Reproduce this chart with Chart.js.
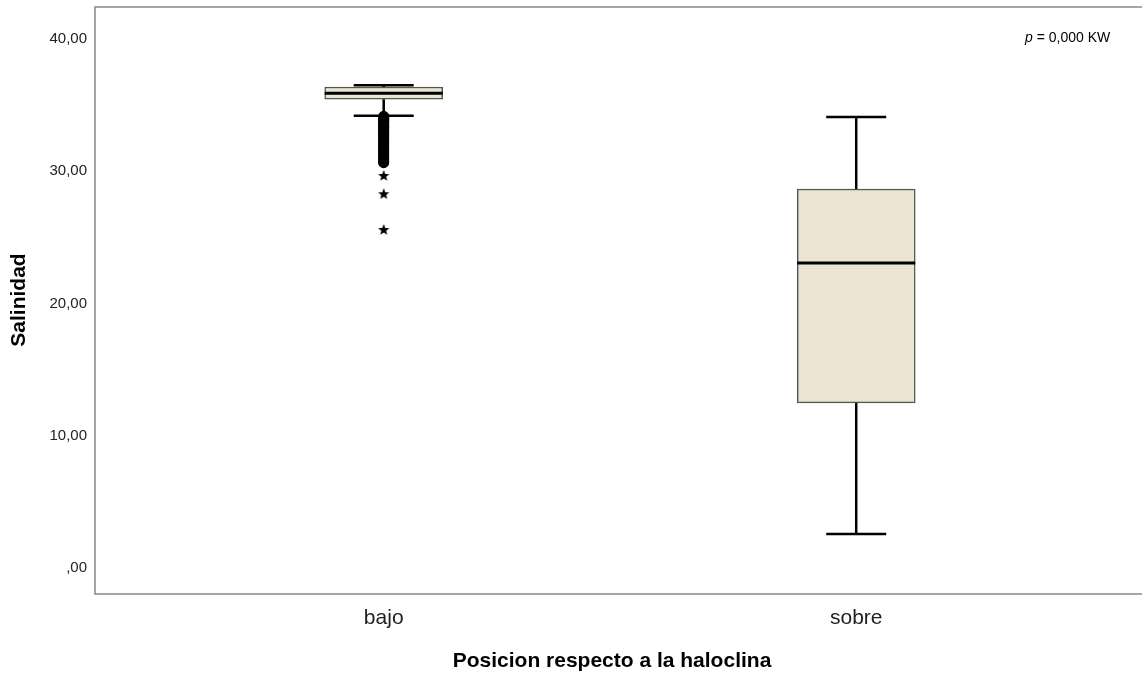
<!DOCTYPE html>
<html>
<head>
<meta charset="utf-8">
<script src="https://cdn.jsdelivr.net/npm/chart.js@4.4.1/dist/chart.umd.min.js"></script>
<style>
    html, body { margin: 0; padding: 0; background: #fff; }
    #wrap { width: 1142px; height: 675px; position: relative; }
</style>
</head>
<body>
<div id="wrap"><canvas id="boxChart"></canvas></div>
<script>
// Données (Salinidad par position)
const categories = ['bajo', 'sobre'];
const whiskerLow = [34.2, 2.57];
const q1 = [35.45, 12.48];
const median = [35.9, 23.06];
const q3 = [36.37, 28.66];
const whiskerHigh = [36.5, 34.1];
// valeurs atypiques du groupe "bajo"
const outlierCircles = [34.15, 34.1, 34.05, 34.0, 33.95, 33.9, 33.85, 33.8, 33.75, 33.7, 33.6, 33.55,
    33.5, 33.4, 33.35, 33.3, 33.2, 33.1, 33.0, 32.9, 32.8, 32.7, 32.6, 32.5, 32.4, 32.3, 32.2, 32.1,
    32.0, 31.9, 31.8, 31.7, 31.6, 31.5, 31.4, 31.3, 31.2, 31.1, 31.0, 30.9, 30.8, 30.7, 30.65];
const outlierStars = [29.64, 28.26, 25.56];
const yTicks = [0, 10, 20, 30, 40];

const FONT = '"Liberation Sans", Arial, sans-serif';
const BOX_FILL = '#EAE4D1';

// Étoile pleine pour les valeurs extrêmes
function makeStar(size) {
    const c = document.createElement('canvas');
    c.width = size; c.height = size;
    const g = c.getContext('2d');
    const cx = size / 2, cy = size / 2, R = size / 2, r = R * 0.42;
    g.beginPath();
    for (let i = 0; i < 10; i++) {
        const rad = i % 2 === 0 ? R : r;
        const a = -Math.PI / 2 + i * Math.PI / 5;
        g.lineTo(cx + rad * Math.cos(a), cy + rad * Math.sin(a));
    }
    g.closePath();
    g.fillStyle = '#000';
    g.fill();
    return c;
}

const fmt = v => v === 0 ? ',00' : v.toFixed(2).replace('.', ',');

// Moustaches, médianes, cadre et textes
const boxPlugin = {
    id: 'boxPlugin',
    afterDatasetsDraw(chart) {
        const { ctx, scales: { x, y } } = chart;
        ctx.save();
        categories.forEach((cat, i) => {
            const px = x.getPixelForValue(i);
            ctx.strokeStyle = '#000';
            ctx.lineWidth = 2.5;
            ctx.beginPath();
            ctx.moveTo(px, y.getPixelForValue(q3[i]));
            ctx.lineTo(px, y.getPixelForValue(whiskerHigh[i]));
            ctx.moveTo(px, y.getPixelForValue(q1[i]));
            ctx.lineTo(px, y.getPixelForValue(whiskerLow[i]));
            ctx.moveTo(px - 30, y.getPixelForValue(whiskerHigh[i]));
            ctx.lineTo(px + 30, y.getPixelForValue(whiskerHigh[i]));
            ctx.moveTo(px - 30, y.getPixelForValue(whiskerLow[i]));
            ctx.lineTo(px + 30, y.getPixelForValue(whiskerLow[i]));
            ctx.stroke();
            ctx.lineWidth = 3;
            ctx.beginPath();
            ctx.moveTo(px - 59, y.getPixelForValue(median[i]));
            ctx.lineTo(px + 59, y.getPixelForValue(median[i]));
            ctx.stroke();
        });
        ctx.restore();
    },
    afterDraw(chart) {
        const { ctx, chartArea } = chart;
        ctx.save();
        ctx.strokeStyle = '#888';
        ctx.lineWidth = 1.5;
        ctx.beginPath();
        ctx.moveTo(chart.width, chartArea.top);
        ctx.lineTo(chartArea.left, chartArea.top);
        ctx.lineTo(chartArea.left, chartArea.bottom);
        ctx.lineTo(chart.width, chartArea.bottom);
        ctx.stroke();

        ctx.fillStyle = '#000';
        ctx.textBaseline = 'middle';
        ctx.font = 'bold 21px ' + FONT;
        ctx.textAlign = 'center';
        ctx.fillText('Posicion respecto a la haloclina', 612, 661);
        ctx.translate(19, 300);
        ctx.rotate(-Math.PI / 2);
        ctx.fillText('Salinidad', 0, 0);
        ctx.setTransform(1, 0, 0, 1, 0, 0);

        ctx.textAlign = 'left';
        ctx.font = 'italic 14px ' + FONT;
        ctx.fillText('p', 1025, 38);
        const pw = ctx.measureText('p').width;
        ctx.font = '14px ' + FONT;
        ctx.fillText(' = 0,000 KW', 1025 + pw, 38);
        ctx.restore();
    }
};

const ctx = document.getElementById('boxChart').getContext('2d');
new Chart(ctx, {
    type: 'bar',
    data: {
        datasets: [
            {
                type: 'bar',
                data: categories.map((c, i) => ({ x: i, y: [q1[i], q3[i]] })),
                backgroundColor: BOX_FILL,
                borderColor: '#555',
                borderWidth: 1.5,
                borderSkipped: false,
                barThickness: 118,
                order: 2
            },
            {
                type: 'scatter',
                data: outlierCircles.map(v => ({ x: 0, y: v })),
                pointStyle: 'circle',
                pointRadius: 4.5,
                pointBorderWidth: 2,
                pointBorderColor: '#000',
                pointBackgroundColor: 'rgba(0,0,0,0)',
                order: 1
            },
            {
                type: 'scatter',
                data: outlierStars.map(v => ({ x: 0, y: v })),
                pointStyle: makeStar(12),
                pointRadius: 6,
                order: 1
            }
        ]
    },
    options: {
        responsive: true,
        maintainAspectRatio: false,
        animation: false,
        layout: { padding: { top: 7, right: 0, left: 0, bottom: 0 } },
        plugins: {
            legend: { display: false },
            tooltip: { enabled: false }
        },
        scales: {
            x: {
                type: 'linear',
                offset: false,
                min: -0.611,
                max: 1.59,
                grid: { display: false, drawTicks: false, offset: false },
                border: { display: false },
                afterBuildTicks: s => { s.ticks = [{ value: 0 }, { value: 1 }]; },
                afterFit: s => { s.height = 81; s.paddingLeft = 0; s.paddingRight = 0; },
                ticks: {
                    padding: 12,
                    color: '#222',
                    font: { family: FONT, size: 21 },
                    callback: v => categories[v]
                }
            },
            y: {
                min: -1.97,
                max: 42.42,
                grid: { display: false, drawTicks: false },
                border: { display: false },
                afterBuildTicks: s => { s.ticks = yTicks.map(v => ({ value: v })); },
                afterFit: s => { s.width = 95; s.paddingTop = 0; s.paddingBottom = 0; },
                ticks: {
                    padding: 8,
                    color: '#222',
                    font: { family: FONT, size: 15 },
                    callback: v => fmt(v)
                }
            }
        }
    },
    plugins: [boxPlugin]
});
</script>
</body>
</html>
